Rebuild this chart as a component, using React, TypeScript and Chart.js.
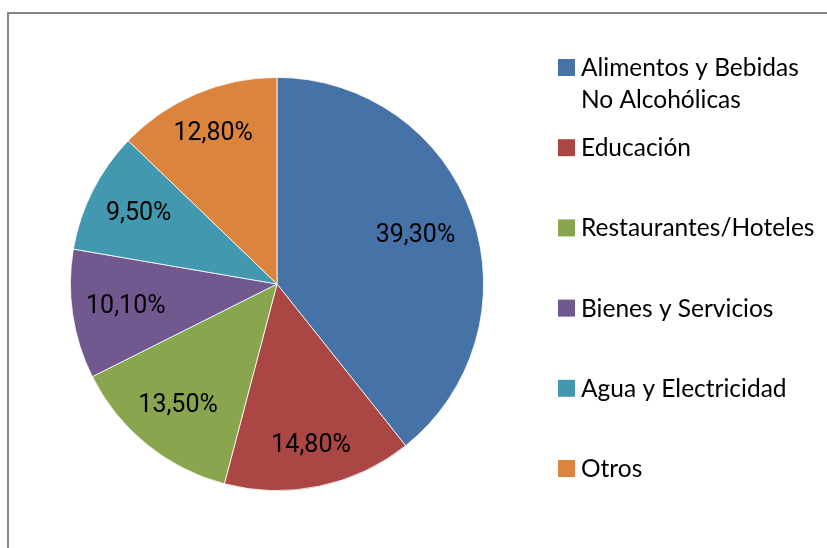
import React, { useEffect, useRef } from "react";
import { Chart, registerables } from "chart.js";

Chart.register(...registerables);

const categories = [
  "Alimentos y Bebidas No Alcohólicas",
  "Educación",
  "Restaurantes/Hoteles",
  "Bienes y Servicios",
  "Agua y Electricidad",
  "Otros",
];
const shares = [39.3, 14.8, 13.5, 10.1, 9.5, 12.8];
const valueLabels = ["39,30%", "14,80%", "13,50%", "10,10%", "9,50%", "12,80%"];
const colors = ["#4572A7", "#AA4643", "#89A54E", "#71588F", "#4198AF", "#DB843D"];
const labelRadiusFractions = [0.71, 0.8, 0.76, 0.74, 0.75, 0.79];

const W = 827;
const H = 548;

const framePlugin = {
  id: "frame",
  beforeDraw(chart: any) {
    const ctx = chart.ctx;
    ctx.save();
    ctx.fillStyle = "#ffffff";
    ctx.fillRect(0, 0, W, H);
    ctx.fillStyle = "#868686";
    ctx.fillRect(7, 12, W - 7, 2);
    ctx.fillRect(7, 12, 2, H - 12);
    ctx.restore();
  },
};

const sliceLabelPlugin = {
  id: "sliceLabels",
  afterDatasetsDraw(chart: any) {
    const ctx = chart.ctx;
    const meta = chart.getDatasetMeta(0);
    ctx.save();
    ctx.font = "25px Roboto";
    ctx.fillStyle = "#000000";
    ctx.textAlign = "center";
    ctx.textBaseline = "middle";
    meta.data.forEach((arc: any, i: number) => {
      const p = arc.getProps(["x", "y", "startAngle", "endAngle", "outerRadius"], true);
      const mid = (p.startAngle + p.endAngle) / 2;
      const r = p.outerRadius * labelRadiusFractions[i];
      ctx.fillText(valueLabels[i], p.x + Math.cos(mid) * r, p.y + Math.sin(mid) * r);
    });
    ctx.restore();
  },
};

const legendPlugin = {
  id: "sideLegend",
  afterDraw(chart: any) {
    const ctx = chart.ctx;
    const labels: string[] = chart.data.labels;
    const bg: string[] = chart.data.datasets[0].backgroundColor;
    const swatchX = 558;
    const textX = 581;
    const maxWidth = W - textX - 4;
    const lineHeight = 32;
    const itemStep = 80.2;
    const firstBaseline = 76;
    ctx.save();
    ctx.font = "24.5px Lato";
    ctx.textBaseline = "alphabetic";
    ctx.textAlign = "left";
    labels.forEach((label, i) => {
      const baseline = firstBaseline + i * itemStep;
      ctx.fillStyle = bg[i];
      ctx.fillRect(swatchX, baseline - 17, 17, 17);
      const words = label.split(" ");
      const lines: string[] = [];
      let cur = "";
      words.forEach((w) => {
        const test = cur ? cur + " " + w : w;
        if (ctx.measureText(test).width > maxWidth && cur) {
          lines.push(cur);
          cur = w;
        } else {
          cur = test;
        }
      });
      if (cur) lines.push(cur);
      ctx.fillStyle = "#000000";
      lines.forEach((ln, j) => ctx.fillText(ln, textX, baseline + j * lineHeight));
    });
    ctx.restore();
  },
};

export default function App() {
  const ref = useRef<HTMLCanvasElement | null>(null);
  useEffect(() => {
    if (!ref.current) return;
    const chart = new Chart(ref.current, {
      type: "pie",
      data: {
        labels: categories,
        datasets: [
          {
            data: shares,
            backgroundColor: colors,
            borderColor: "#ffffff",
            borderWidth: 0.8,
          },
        ],
      },
      options: {
        responsive: false,
        animation: false,
        devicePixelRatio: 1,
        layout: { padding: { left: 70, right: 343, top: 77, bottom: 57 } },
        plugins: {
          legend: { display: false },
          tooltip: { enabled: false },
        },
      },
      plugins: [framePlugin, sliceLabelPlugin, legendPlugin],
    });
    return () => chart.destroy();
  }, []);
  return (
    <div style={{ position: "absolute", left: 0, top: 0, width: W, height: H }}>
      <canvas ref={ref} width={W} height={H} style={{ display: "block" }} />
    </div>
  );
}
